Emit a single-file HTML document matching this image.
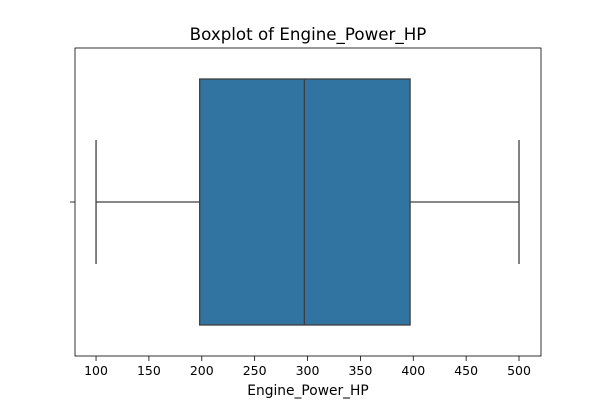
<!DOCTYPE html>
<html><head><meta charset="utf-8"><style>
html,body{margin:0;padding:0;background:#fff;}
svg text{font-family:"DejaVu Sans","Liberation Sans",sans-serif;fill:#000;}
</style></head><body>
<svg id="chart" width="600" height="400" xmlns="http://www.w3.org/2000/svg">
<text x="308" y="40" font-size="16.7" text-anchor="middle">Boxplot of Engine_Power_HP</text>
<g id="plot"></g>
<rect x="75" y="48" width="466" height="308" fill="none" stroke="#000" stroke-width="0.8"/>
<text x="308" y="395" font-size="13.8" text-anchor="middle">Engine_Power_HP</text>
</svg>
<script>
const xTicks = [100,150,200,250,300,350,400,450,500];
const stats = [100, 198, 297, 397, 500]; // min, q1, median, q3, max
const xMin = 80.1, xMax = 520.8;
const L = 75, R = 541;
function xs(v){ return L + (v - xMin) / (xMax - xMin) * (R - L); }
const NS = "http://www.w3.org/2000/svg";
const g = document.getElementById('plot');
function mk(tag, attrs){ const e = document.createElementNS(NS, tag); for (const k in attrs) e.setAttribute(k, attrs[k]); g.appendChild(e); return e; }
const cy = 202, boxTop = 79, boxBot = 325, capTop = 140, capBot = 264;
let e;
e = mk('line',{x1:xs(stats[0]),x2:xs(stats[1]),y1:cy,y2:cy,stroke:'#3f3f3f','stroke-width':1.3});


e = mk('line',{x1:xs(stats[3]),x2:xs(stats[4]),y1:cy,y2:cy,stroke:'#3f3f3f','stroke-width':1.3});


e = mk('line',{x1:xs(stats[0]),x2:xs(stats[0]),y1:capTop,y2:capBot,stroke:'#3f3f3f','stroke-width':1.3});


e = mk('line',{x1:xs(stats[4]),x2:xs(stats[4]),y1:capTop,y2:capBot,stroke:'#3f3f3f','stroke-width':1.3});


e = mk('rect',{x:xs(stats[1]),y:boxTop,width:xs(stats[3])-xs(stats[1]),height:boxBot-boxTop,fill:'#3274a1',stroke:'#3f3f3f','stroke-width':1.3});


e = mk('line',{x1:xs(stats[2]),x2:xs(stats[2]),y1:boxTop,y2:boxBot,stroke:'#3f3f3f','stroke-width':1.3});


e = mk('line',{x1:70,x2:75,y1:cy,y2:cy,stroke:'#000','stroke-width':0.8});


xTicks.forEach(t=>{
  const x = xs(t);
  const l = mk('line',{x1:x,x2:x,y1:356,y2:361,stroke:'#000','stroke-width':0.8});
  
  
  const tx = mk('text',{x:x,y:375,'font-size':12.5,'text-anchor':'middle'});
  tx.textContent = t;
  
  
});
</script>
</body></html>
